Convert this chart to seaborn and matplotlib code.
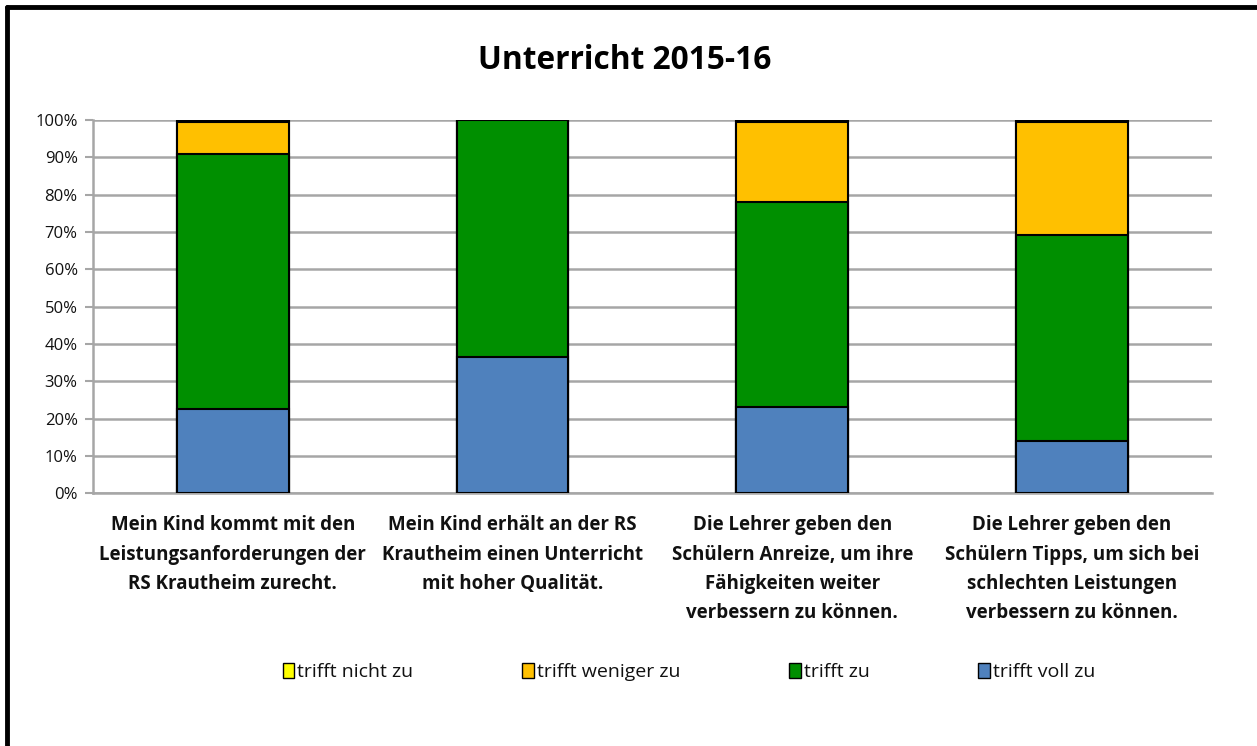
import matplotlib
matplotlib.use('Agg')
import matplotlib.pyplot as plt
from matplotlib.patches import Patch
from matplotlib.lines import Line2D
from matplotlib.ticker import PercentFormatter
import numpy as np
import pandas as pd
import seaborn as sns

# Data (percent)
categories = [
    'Mein Kind kommt mit den\nLeistungsanforderungen der\nRS Krautheim zurecht.',
    'Mein Kind erhält an der RS\nKrautheim einen Unterricht\nmit hoher Qualität.',
    'Die Lehrer geben den\nSchülern Anreize, um ihre\nFähigkeiten weiter\nverbessern zu können.',
    'Die Lehrer geben den\nSchülern Tipps, um sich bei\nschlechten Leistungen\nverbessern zu können.',
]
voll_zu = [22.5, 36.5, 23.0, 14.0]
zu = [68.4, 63.5, 55.0, 55.2]
weniger_zu = [8.6, 0.0, 21.5, 30.3]
nicht_zu = [0.5, 0.0, 0.5, 0.5]

series_names = ['trifft nicht zu', 'trifft weniger zu', 'trifft zu', 'trifft voll zu']
colors = ['#FFFF00', '#FFC000', '#008F00', '#4F81BD']

sns.set_theme(style='white')
plt.rcParams['font.family'] = ['Open Sans', 'DejaVu Sans']
plt.rcParams['text.color'] = 'black'

df = pd.DataFrame({'cat': categories, 'blue': voll_zu, 'green': zu,
                   'orange': weniger_zu, 'yellow': nicht_zu})
df['c_blue'] = df['blue']
df['c_green'] = df['c_blue'] + df['green']
df['c_orange'] = df['c_green'] + df['orange']
df['c_yellow'] = df['c_orange'] + df['yellow']

fig = plt.figure(figsize=(12.57, 7.46), dpi=100)
ax = fig.add_axes([0.074, 0.339, 0.890, 0.500])

# stacked bars drawn as overlapping cumulative totals, tallest first
for col, color in zip(['c_yellow', 'c_orange', 'c_green', 'c_blue'], colors):
    sns.barplot(data=df, x='cat', y=col, color=color, width=0.4,
                edgecolor='black', linewidth=1.5, saturation=1, ax=ax, zorder=3)

ax.set_ylim(0, 100)
ax.set_xlim(-0.5, 3.5)
ax.set_yticks(np.arange(0, 101, 10))
ax.yaxis.set_major_formatter(PercentFormatter(decimals=0))
ax.yaxis.grid(True, color='#a6a6a6', linewidth=1.8, zorder=0)
ax.set_axisbelow(True)
ax.set_xlabel('')
ax.set_ylabel('')

for s in ['top', 'right']:
    ax.spines[s].set_visible(False)
for s in ['left', 'bottom']:
    ax.spines[s].set_color('#a6a6a6')
    ax.spines[s].set_linewidth(1.8)

ax.tick_params(axis='y', which='major', left=True, length=6, width=1.5,
               color='#a6a6a6', labelsize=12, labelcolor='#111111', pad=5)
# category labels with boundary ticks
ax.set_xticks([0, 1, 2, 3])
ax.set_xticklabels(categories, fontsize=13.5, fontweight='bold',
                   linespacing=1.62, va='top', color='#111111')
ax.tick_params(axis='x', which='major', length=0, pad=16)
ax.set_xticks([-0.5, 0.5, 1.5, 2.5, 3.5], minor=True)
ax.tick_params(axis='x', which='minor', length=8, width=1.5, color='#a6a6a6')

fig.text(0.497, 0.919, 'Unterricht 2015-16', ha='center', va='center',
         fontsize=22.8, fontweight='bold', color='black')

handles = [Patch(facecolor=c, edgecolor='black', linewidth=1) for c in colors]
fig.legend(handles, series_names, loc='center', bbox_to_anchor=(0.548, 0.099),
           ncol=4, frameon=False, fontsize=14, handlelength=0.6,
           handleheight=0.8, handletextpad=0.15, columnspacing=5.6,
           labelcolor='#111111')

# frame lines at top and left of the picture
fig.add_artist(Line2D([0.0055, 1.0], [0.991, 0.991], color='black', linewidth=3.5,
                      transform=fig.transFigure))
fig.add_artist(Line2D([0.0055, 0.0055], [0.0, 0.991], color='black', linewidth=3.5,
                      transform=fig.transFigure))

fig.savefig('out.png', dpi=100, facecolor='white')
